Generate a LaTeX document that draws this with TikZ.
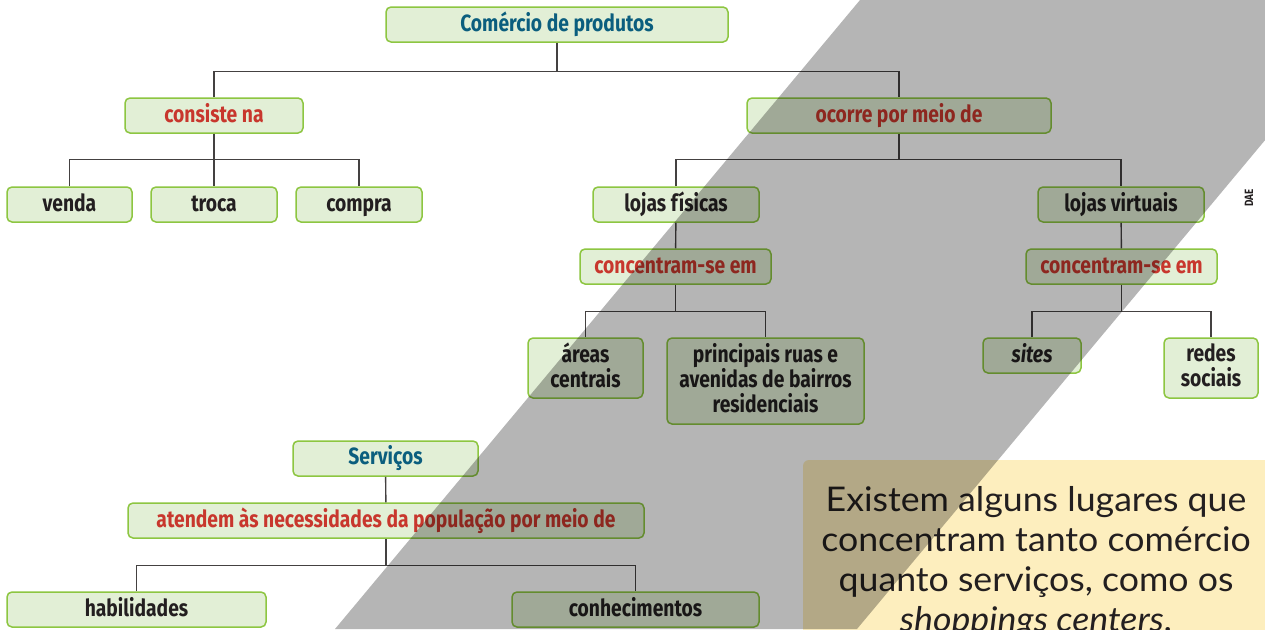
\documentclass[tikz,border=0pt]{standalone}
\usepackage{fontspec}
\setmainfont{Fira Sans}
\newfontfamily\mapfont{Fira Sans}[FakeStretch=0.82]
\newfontfamily\notefont{Lato}[FakeStretch=1.05]
\definecolor{boxfill}{HTML}{E2EFD6}
\definecolor{boxline}{HTML}{8DC641}
\definecolor{linkred}{HTML}{C8372D}
\definecolor{headblue}{HTML}{0B5E7E}
\definecolor{notefill}{HTML}{FDEEBE}
\definecolor{txtdark}{HTML}{231F20}
\tikzset{
  concept/.style={draw=boxline, fill=boxfill, line width=1.5pt, rounded corners=5pt,
    inner sep=0pt, minimum height=35, align=center, text=txtdark,
    font=\mapfont\bfseries\fontsize{23.5}{25}\selectfont,
    execute at begin node=\rule[-6pt]{0pt}{25pt}, execute at end node=\rule[-6pt]{0pt}{25pt}},
  head/.style={concept, text=headblue},
  link/.style={concept, text=linkred},
  tie/.style={draw=txtdark!85, line width=1.4pt}
}
\begin{document}
\begin{tikzpicture}[x=1pt, y=-1pt]
\useasboundingbox (0,0) rectangle (1265,629);
\fill[white] (0,0) rectangle (1265,629);
\clip (0,0) rectangle (1265,629);
\node[head, minimum width=342] (com) at (557,24.5) {Comércio de produtos};
\node[link, minimum width=178] (cons) at (214,115.5) {consiste na};
\node[link, minimum width=304] (ocor) at (899,115.5) {ocorre por meio de};
\node[concept, minimum width=125] (venda) at (69.5,204.5) {venda};
\node[concept, minimum width=126] (troca) at (214,204.5) {troca};
\node[concept, minimum width=126] (compra) at (359,204.5) {compra};
\node[concept, minimum width=166] (fis) at (676,204.5) {lojas físicas};
\node[concept, minimum width=166] (virt) at (1121,204.5) {lojas virtuais};
\node[link, minimum width=191] (concA) at (675.5,266.5) {concentram-se em};
\node[link, minimum width=191] (concB) at (1121.5,266.5) {concentram-se em};
\node[concept, minimum width=115, minimum height=60] (areas) at (585.5,368) {áreas\\centrais};
\node[concept, minimum width=197, minimum height=86] (ruas) at (765.5,381) {principais ruas e\\avenidas de bairros\\residenciais};
\node[concept, minimum width=98] (sites) at (1032,355.5) {\itshape sites};
\node[concept, minimum width=94, minimum height=60] (redes) at (1211,368) {redes\\sociais};
\node[head, minimum width=185] (serv) at (385.5,458.5) {Serviços};
\node[link, minimum width=516] (aten) at (386,520.5) {atendem às necessidades da população por meio de};
\node[concept, minimum width=259] (habil) at (136.5,609.5) {habilidades};
\node[concept, minimum width=247] (conhec) at (635.5,609.5) {conhecimentos};
\node[font=\mapfont\bfseries\fontsize{12}{12}\selectfont, rotate=90, text=txtdark] (dae) at (1249,198) {DAE};
\draw[tie] (com.south) -- ++(0,29) coordinate (j1);
\draw[tie] (cons.north) |- (j1) -| (ocor.north);
\draw[tie] (cons.south) -- ++(0,26) coordinate (j2);
\draw[tie] (venda.north) |- (j2) -| (compra.north);
\draw[tie] (j2) -- (troca.north);
\draw[tie] (ocor.south) -- ++(0,26) coordinate (j3);
\draw[tie] (fis.north) |- (j3) -| (virt.north);
\draw[tie] (fis) -- (concA);
\draw[tie] (virt) -- (concB);
\draw[tie] (concA.south) -- ++(0,27) coordinate (j4);
\draw[tie] (areas.north) |- (j4) -| (ruas.north);
\draw[tie] (concB.south) -- ++(0,27) coordinate (j5);
\draw[tie] (sites.north) |- (j5) -| (redes.north);
\draw[tie] (serv) -- (aten);
\draw[tie] (aten.south) -- ++(0,27) coordinate (j6);
\draw[tie] (habil.north) |- (j6) -| (conhec.north);
\fill[notefill, rounded corners=6pt] (803,460) rectangle (1290,660);
\node[font=\notefont\fontsize{34}{40}\selectfont, align=center, text=txtdark, inner sep=0pt, anchor=north]
  (note) at (1036,486) {Existem alguns lugares que\\concentram tanto comércio\\quanto serviços, como os\\\textit{shoppings centers}.};
\fill[black, opacity=0.29] (860,0) -- (1382,0) -- (857,629) -- (335,629) -- cycle;
\end{tikzpicture}
\end{document}
